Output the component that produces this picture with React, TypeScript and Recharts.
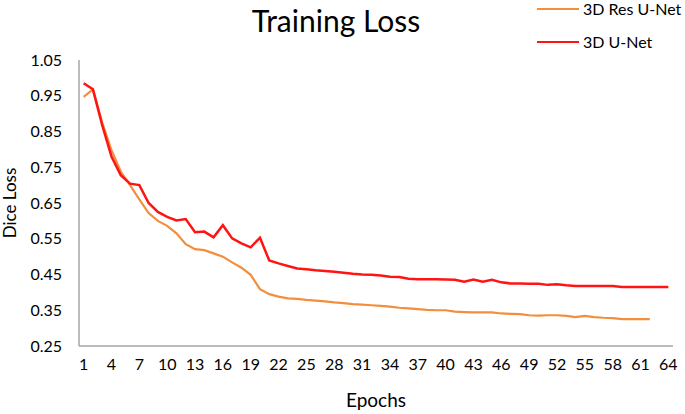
import { Line, LineChart, XAxis, YAxis } from "recharts";

const epochs: number[] = Array.from({ length: 64 }, (_, i) => i + 1);

const xTicks = [1, 4, 7, 10, 13, 16, 19, 22, 25, 28, 31, 34, 37, 40, 43, 46, 49, 52, 55, 58, 61, 64];
const yTicks = [0.25, 0.35, 0.45, 0.55, 0.65, 0.75, 0.85, 0.95, 1.05];

// 3D Res U-Net, epochs 1..62
const resUNet = [
  0.947, 0.968, 0.875, 0.798, 0.738, 0.7, 0.66, 0.622, 0.6, 0.586,
  0.565, 0.535, 0.521, 0.518, 0.509, 0.5, 0.484, 0.469, 0.449, 0.409,
  0.395, 0.388, 0.383, 0.382, 0.379, 0.377, 0.375, 0.372, 0.37, 0.367,
  0.366, 0.364, 0.362, 0.36, 0.357, 0.355, 0.353, 0.351, 0.35, 0.35,
  0.346, 0.345, 0.344, 0.344, 0.344, 0.341, 0.34, 0.339, 0.336, 0.335,
  0.336, 0.336, 0.334, 0.331, 0.334, 0.331, 0.329, 0.328, 0.325, 0.325,
  0.325, 0.325,
];

// 3D U-Net, epochs 1..64
const uNet = [
  0.985, 0.968, 0.868, 0.78, 0.728, 0.704, 0.7, 0.65, 0.625, 0.611,
  0.601, 0.605, 0.568, 0.57, 0.554, 0.588, 0.551, 0.537, 0.526, 0.553,
  0.489, 0.481, 0.474, 0.467, 0.465, 0.462, 0.46, 0.458, 0.455, 0.452,
  0.45, 0.449, 0.447, 0.444, 0.443, 0.438, 0.437, 0.437, 0.437, 0.436,
  0.435, 0.43, 0.436, 0.43, 0.435, 0.428, 0.425, 0.425, 0.424, 0.424,
  0.421, 0.423, 0.42, 0.418, 0.418, 0.418, 0.418, 0.418, 0.415, 0.415,
  0.415, 0.415, 0.415, 0.415,
];

const data = epochs.map((e, i) => ({
  epoch: e,
  res: i < resUNet.length ? resUNet[i] : null,
  unet: uNet[i],
}));

const FONT = "Lato, 'Open Sans', sans-serif";
const ORANGE = "#F28E3C";
const RED = "#FF1414";
const AXIS = "#A6A6A6";

export default function App() {
  return (
    <div
      style={{
        position: "absolute",
        left: 0,
        top: 0,
        width: 685,
        height: 414,
        overflow: "hidden",
        background: "#fff",
        fontFamily: FONT,
        color: "#000",
      }}
    >
      <LineChart
        width={685}
        height={414}
        data={data}
        margin={{ top: 60, right: 12, left: 0, bottom: 0 }}
      >
        <XAxis
          dataKey="epoch"
          type="number"
          domain={[0.5, 64.5]}
          ticks={xTicks}
          interval={0}
          tickLine={false}
          tickSize={0}
          tickMargin={13}
          height={68}
          axisLine={{ stroke: AXIS, strokeWidth: 1.5 }}
          tick={{ fill: "#000", fontSize: 16, fontFamily: FONT }}
        />
        <YAxis
          type="number"
          domain={[0.25, 1.05]}
          ticks={yTicks}
          interval={0}
          width={79}
          tickLine={false}
          tickSize={0}
          tickMargin={17}
          tickFormatter={(v: number) => v.toFixed(2)}
          axisLine={{ stroke: AXIS, strokeWidth: 1.5 }}
          tick={{ fill: "#000", fontSize: 16, fontFamily: FONT }}
        />
        <Line
          type="linear"
          dataKey="res"
          stroke={ORANGE}
          strokeWidth={2.2}
          dot={false}
          isAnimationActive={false}
        />
        <Line
          type="linear"
          dataKey="unet"
          stroke={RED}
          strokeWidth={2.5}
          dot={false}
          isAnimationActive={false}
        />
      </LineChart>

      <div
        style={{
          position: "absolute",
          left: 236,
          top: 0,
          width: 200,
          textAlign: "center",
          fontSize: 30,
          lineHeight: "40px",
        }}
      >
        Training Loss
      </div>

      <div style={{ position: "absolute", left: 537, top: -2, display: "flex", alignItems: "center", whiteSpace: "nowrap" }}>
        <span style={{ display: "inline-block", width: 42, height: 2, background: ORANGE, marginRight: 4 }} />
        <span style={{ fontSize: 16, lineHeight: "22px" }}>3D Res U-Net</span>
      </div>
      <div style={{ position: "absolute", left: 537, top: 31, display: "flex", alignItems: "center", whiteSpace: "nowrap" }}>
        <span style={{ display: "inline-block", width: 42, height: 2.5, background: RED, marginRight: 4 }} />
        <span style={{ fontSize: 16, lineHeight: "22px" }}>3D U-Net</span>
      </div>

      <div
        style={{
          position: "absolute",
          left: 9,
          top: 203,
          fontSize: 17,
          whiteSpace: "nowrap",
          transform: "translate(-50%, -50%) rotate(-90deg)",
        }}
      >
        Dice Loss
      </div>

      <div
        style={{
          position: "absolute",
          left: 276,
          top: 388,
          width: 200,
          textAlign: "center",
          fontSize: 19,
          lineHeight: "24px",
        }}
      >
        Epochs
      </div>
    </div>
  );
}
